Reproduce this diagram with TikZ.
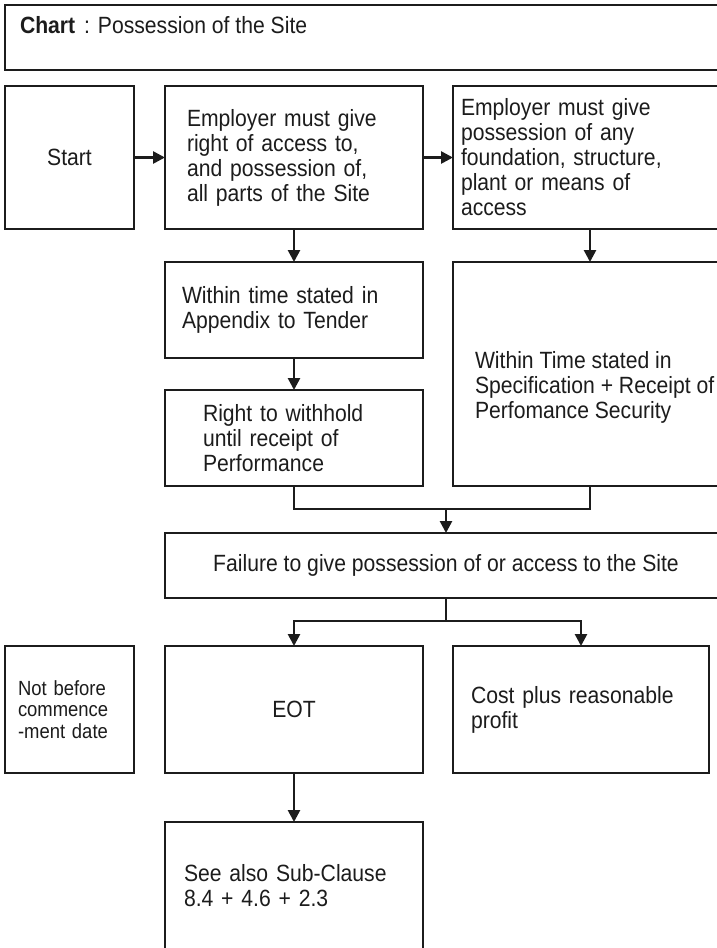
\documentclass[tikz,border=0pt]{standalone}
\usepackage{fontspec}
\setmainfont{Liberation Sans}[FakeStretch=0.9]
\usetikzlibrary{arrows.meta,calc}
\definecolor{ink}{HTML}{1C1C1C}
\begin{document}
\begin{tikzpicture}[x=1pt,y=-1pt,
  box/.style={draw=ink, line width=1.8pt, rectangle, inner sep=0pt, outer sep=0pt,
    anchor=north west, align=left, text=ink, font=\fontsize{23.5}{25}\selectfont},
  txt/.style={inner sep=0pt, outer sep=0pt, align=left, text=ink, font=\fontsize{23.5}{25}\selectfont},
  conn/.style={draw=ink, line width=2.6pt},
  arr/.style={conn, -{Triangle[length=12pt,width=12pt]}},
]
\useasboundingbox (0,0) rectangle (717,948);
\clip (0,0) rectangle (717,948);
\fill[white] (0,0) rectangle (717,948);

% title
\node[box, minimum width=730pt, minimum height=65pt] (title) at (5,5) {};
\node[txt, anchor=base west] (titletext) at (20,33) {\textbf{Chart}\hspace{9pt}: Possession of the Site};

% row 1
\node[box, minimum width=129pt, minimum height=143pt, align=center] (start) at (5,86) {Start};
\node[box, minimum width=258pt, minimum height=143pt, text width=214pt] (access) at (165,86)
  {Employer must give\\right of access to,\\and possession of,\\all parts of the Site};
\node[box, minimum width=274pt, minimum height=143pt, text width=258pt] (poss) at (453,86)
  {Employer must give\\possession of any\\foundation, structure,\\plant or means of\\access};

% row 2/3
\node[box, minimum width=258pt, minimum height=96pt, text width=224pt] (within) at (165,262)
  {Within time stated in\\Appendix to Tender};
\node[box, minimum width=258pt, minimum height=96pt, text width=182pt] (withhold) at (165,390)
  {Right to withhold\\until receipt of\\Performance};
\node[box, minimum width=274pt, minimum height=224pt] (spec) at (453,262) {};
\node[txt, anchor=north west] (spectext) at (475,351)
  {Within Time stated in\\Specification + Receipt of\\Perfomance Security};

% failure
\node[box, minimum width=562pt, minimum height=65pt, align=center] (fail) at (165,533)
  {Failure to give possession of or access to the Site};

% row 5
\node[box, minimum width=129pt, minimum height=127pt, text width=103pt,
  font=\fontsize{20.5}{21.7}\selectfont] (notbefore) at (5,646)
  {Not before\\commence\\-ment date};
\node[box, minimum width=258pt, minimum height=127pt, align=center] (eot) at (165,646) {EOT};
\node[box, minimum width=256pt, minimum height=127pt, text width=220pt] (cost) at (453,646)
  {Cost plus reasonable\\profit};

% row 6
\node[box, minimum width=258pt, minimum height=127pt, text width=220pt] (see) at (165,822)
  {See also Sub-Clause\\8.4 + 4.6 + 2.3};

% connectors
\draw[arr] (start) -- (access);
\draw[arr] (access) -- (poss);
\draw[arr] (access) -- (within);
\draw[arr] (poss) -- (spec);
\draw[arr] (within) -- (withhold);
\draw[conn] (withhold.south) -- ++(0,23) -| (spec.south);
\draw[arr] (fail.north) ++(0,-24) -- (fail.north);
\draw[conn] (fail.south) -- ++(0,23) coordinate (split);
\draw[arr] (split) -| (eot.north);
\draw[arr] (split) -| (cost.north);
\draw[arr] (eot) -- (see);
\end{tikzpicture}
\end{document}
